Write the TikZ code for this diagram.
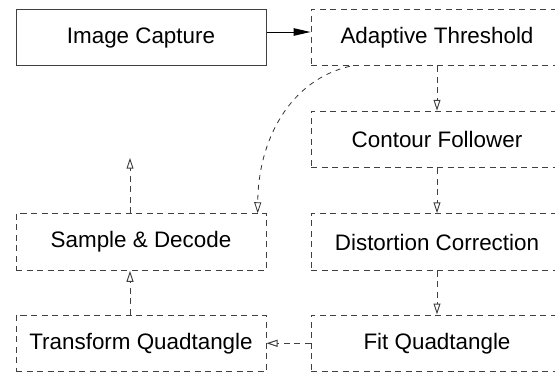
\documentclass[tikz,border=0pt]{standalone}
\usepackage{fontspec}
\setmainfont{Liberation Sans}
\usetikzlibrary{arrows.meta}
\begin{document}
\begin{tikzpicture}[x=1pt,y=-1pt,
  box/.style={draw=black!75, line width=1pt, rectangle, inner sep=0pt,
    minimum height=56.5pt, font=\fontsize{22.4}{26}\selectfont},
  lbox/.style={box, minimum width=250pt},
  rbox/.style={box, minimum width=252pt, dash pattern=on 6pt off 4.5pt},
  dbox/.style={lbox, dash pattern=on 6pt off 4.5pt},
  conn/.style={draw=black!75, line width=1pt, dash pattern=on 6pt off 4.5pt,
    -{Triangle[open,length=11pt,width=7pt]}},
  curvconn/.style={draw=black!80, line width=0.8pt, dash pattern=on 5pt off 5pt,
    -{Triangle[open,length=11pt,width=7pt]}},
  solidconn/.style={draw=black, line width=1pt, -{Triangle[length=17pt,width=7.5pt]}}
]
\useasboundingbox (0,0) rectangle (555,373);
\clip (0,0) rectangle (555,373);
\node[lbox] (cap) at (141,37.5) {Image Capture};
\node[rbox] (thr) at (437,37.5) {Adaptive Threshold};
\node[rbox] (con) at (437,139.5) {Contour Follower};
\node[rbox] (dis) at (437,242) {Distortion Correction};
\node[rbox] (fit) at (437,343.3) {Fit Quadtangle};
\node[dbox] (sam) at (141,242) {Sample \& Decode};
\node[dbox] (tra) at (141,343.3) {Transform Quadtangle};
\coordinate (up) at (130,157.7);

\draw[solidconn] ([yshift=5.5pt]cap.east) -- ([yshift=5.5pt]thr.west);
\draw[conn] (thr.south) -- (con.north);
\draw[conn] (con.south) -- (dis.north);
\draw[conn] (dis.south) -- (fit.north);
\draw[conn] (fit.west) -- (tra.east);
\draw[conn] ([xshift=-11pt]tra.north) -- ([xshift=-11pt]sam.south);
\draw[conn] ([xshift=-11pt]sam.north) -- (up);
\draw[curvconn] ([xshift=-87pt]thr.south) .. controls (290,80) and (258,140) .. ([xshift=116.7pt]sam.north);
\end{tikzpicture}
\end{document}
